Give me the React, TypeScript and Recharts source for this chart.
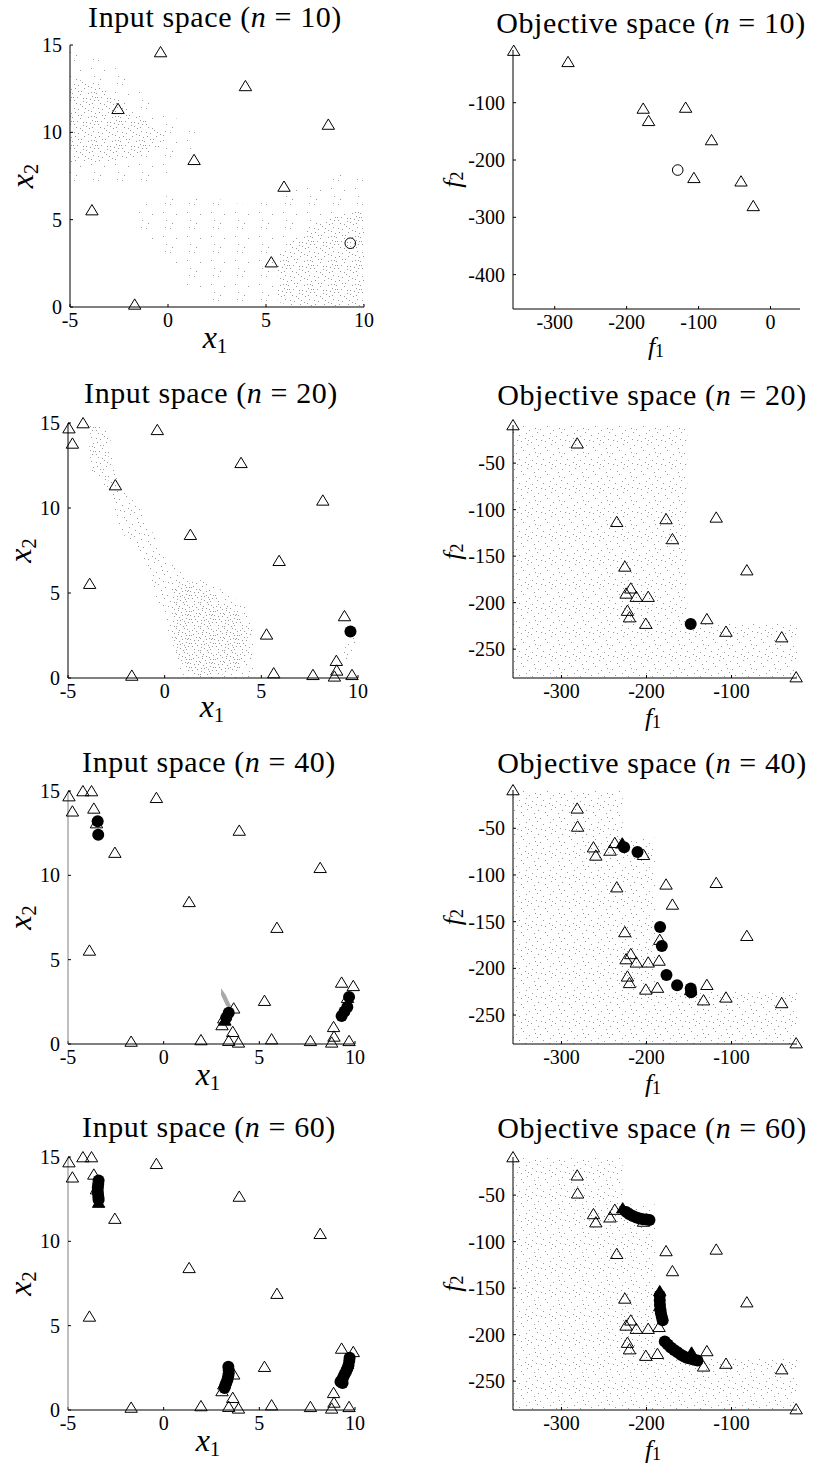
import React from 'react';
import { ComposedChart, Scatter, Area, XAxis, YAxis } from 'recharts';

type Pt = [number, number];
type Row = [number, number, number]; // x, low, high of a shaded sample cloud

// ---------- input space (x1, x2) ----------
const inTri10: Pt[] = [
  [-0.38, 14.6], [3.95, 12.66], [-2.55, 11.35], [8.18, 10.45], [1.33, 8.43],
  [5.92, 6.9], [-3.88, 5.55], [5.27, 2.57], [-1.7, 0.15],
];
const inRing10: Pt[] = [[9.3, 3.65]];
const inTri20: Pt[] = [
  [-4.95, 14.7], [-4.22, 15.0], [-4.77, 13.8], [9.3, 3.65], [5.64, 0.29],
  [7.67, 0.19], [8.88, 1.02], [8.9, 0.45], [8.78, 0.1], [9.69, 0.19],
];
const inDot20: Pt[] = [[9.61, 2.74]];
const inTri40: Pt[] = [
  [-3.77, 15.0], [-3.65, 13.97], [-3.51, 13.1], [9.91, 3.45], [1.95, 0.24], [3.61, 0.73],
  [3.4, 0.2], [3.91, 0.1], [3.66, 2.12], [3.14, 1.53], [3.05, 1.13], [9.61, 2.74],
];
const inDot40: Pt[] = [
  [-3.45, 13.2], [-3.42, 12.4], [3.4, 1.85], [3.27, 1.55],
  [9.69, 2.78], [9.6, 2.2], [9.45, 1.92], [9.3, 1.66],
];
const inTriFill40: Pt[] = [[3.2, 1.4]];
const inDot60: Pt[] = [
  [-3.4, 13.6], [-3.42, 13.4], [-3.44, 13.2], [-3.45, 13.0], [-3.43, 12.8], [-3.41, 12.6], [-3.4, 12.45],
  [3.38, 2.56], [3.4, 2.35], [3.4, 2.17], [3.37, 1.98], [3.33, 1.78], [3.27, 1.6], [3.22, 1.45], [3.18, 1.3],
  [9.72, 3.1], [9.7, 2.9], [9.66, 2.66], [9.6, 2.45], [9.53, 2.27], [9.45, 2.1], [9.38, 1.92], [9.3, 1.76], [9.24, 1.68], [9.35, 1.6],
];
const inTriFill60: Pt[] = [[-3.4, 12.3]];

// gray sample clouds, input space
const inFringeUL10: Row[] = [[-5, 7.0, 14.8], [-4, 6.9, 14.6], [-3, 7.0, 14.0], [-2, 7.0, 13.0], [-1, 7.2, 12.0], [0, 7.6, 11.0], [1, 8.8, 10.5], [1.6, 9.4, 9.9]];
const inCoreUL10: Row[] = [[-5, 8.2, 13.2], [-4, 8.3, 12.8], [-3, 8.3, 12.3], [-2, 8.5, 11.3], [-1, 8.8, 10.6], [-0.2, 9.3, 10.0]];
const inFringeLR10: Row[] = [[-1.7, 4.6, 5.6], [-0.5, 3.5, 6.4], [1, 1.0, 6.2], [2.5, 0.3, 6.2], [4, 0, 5.8], [5.5, 0, 6.2], [7, 0, 7.0], [8.5, 0, 7.6], [10, 0, 7.5]];
const inCoreLR10: Row[] = [[5.6, 0.3, 3.0], [6.5, 0, 4.0], [7.5, 0, 4.6], [8.5, 0, 5.2], [10, 0, 5.6]];
const inArm20: Row[] = [
  [-3.9, 12.6, 15.0], [-3.4, 11.8, 15.0], [-2.9, 10.9, 14.6], [-2.4, 8.8, 11.4], [-1.8, 8.0, 10.6],
  [-1.2, 7.0, 10.0], [-0.6, 5.0, 8.5], [0, 3.4, 7.2], [0.6, 0.5, 6.4], [1.2, 0, 6.0],
  [2.5, 0, 5.5], [3.5, 0, 4.8], [4.3, 0, 4.3], [4.6, 0.3, 2.5],
];
const inArmCore20: Row[] = [[0.4, 2.0, 5.2], [1.2, 0.2, 5.6], [2.2, 0.1, 5.2], [3.0, 0.2, 4.4], [3.8, 0.6, 3.8], [4.3, 1.5, 3.0]];
const inArmTop20: Row[] = [[-3.85, 12.2, 14.9], [-3.4, 11.8, 15.0], [-2.9, 11.6, 14.0]];
const inSpur20: Row[] = [[9.2, 0.6, 1.3], [9.5, 1.0, 2.4], [9.85, 2.1, 3.2]];
const inStreak40: Row[] = [[3.0, 2.9, 3.3], [3.25, 2.3, 2.9], [3.5, 2.0, 2.3]];

// ---------- objective space (f1, f2) ----------
const objTri10: Pt[] = [
  [-357, -9], [-281.5, -28.6], [-177, -110], [-169.5, -131.5], [-118, -108.3],
  [-82, -165], [-106.5, -231], [-41, -237], [-24, -280],
];
const objRing10: Pt[] = [[-129, -217.5]];
const objTri20: Pt[] = [
  [-129, -217.5], [-235, -113], [-225.5, -161], [-218.5, -184.5], [-224, -190],
  [-212, -193.5], [-198, -193.5], [-222.4, -208.5], [-220, -215.5], [-200.8, -222.5],
];
const objDot20: Pt[] = [[-148, -223]];
const objTri40: Pt[] = [
  [-281, -48], [-262.4, -70.2], [-259.6, -79], [-242.8, -73.7], [-237.3, -65.5], [-203.5, -78.3],
  [-184.4, -169.2], [-185.2, -191.5], [-187.1, -220.5], [-132.9, -234], [-148, -223],
];
const objDot40: Pt[] = [
  [-226.3, -70.2], [-210.6, -75.5], [-184, -155.7], [-182, -176], [-176.5, -207.2],
  [-164, -218], [-148, -221.5], [-147.5, -225.5],
];
const objTriFill40: Pt[] = [[-228.5, -66]];
const objDot60: Pt[] = [
  [-224, -68], [-220, -70.5], [-216, -72.5], [-212, -74], [-208, -75], [-204, -75.8], [-200, -76.3], [-196.5, -76.7],
  [-184.4, -158], [-184.4, -163], [-184.2, -168], [-183.6, -173], [-183, -177], [-182, -181], [-181, -184.5],
  [-178.5, -207.3], [-175, -210.5], [-171.4, -213.7], [-167.5, -216.5], [-163.5, -219], [-159.5, -221.5],
  [-155.8, -223.6], [-151.8, -225], [-147.9, -226], [-144, -227], [-140, -227.9],
];
const objTriFill60: Pt[] = [[-228, -64], [-184.4, -153], [-147, -219]];

const objCloud20: Row[] = [[-357, -281, -9], [-152, -281, -9], [-152, -281, -223], [-23, -281, -223]];
const objCloudLate: Row[] = [
  [-357, -281, -9], [-228, -281, -9], [-228, -281, -60], [-190, -281, -60], [-190, -281, -225], [-23, -281, -225],
];

// ---------- axes ----------
const inDomX: [number, number] = [-5, 10];
const inDomY: [number, number] = [0, 15];
const inTicksX = [-5, 0, 5, 10];
const inTicksY = [0, 5, 10, 15];
const objDomX10: [number, number] = [-358, 41];
const objDomY10: [number, number] = [-460, -8];
const objTicksX10 = [-300, -200, -100, 0];
const objTicksY10 = [-400, -300, -200, -100];
const objDomX: [number, number] = [-357, -23];
const objDomY: [number, number] = [-281, -9];
const objTicksX = [-300, -200, -100];
const objTicksY = [-250, -200, -150, -100, -50];

// ---------- texture for the sample clouds ----------
const FONT = '"Liberation Serif", "Times New Roman", serif';
const INK = '#000';
const SPECK = '#9a9a9a';
const speckA = [[2, 3], [10, 1], [16, 5], [21, 2], [6, 10], [12, 7], [19, 11], [23, 8], [1, 16], [8, 13], [14, 17], [20, 15], [4, 22], [11, 20], [17, 23], [22, 19]];
const speckB = [[6, 4], [13, 3], [19, 6], [3, 7], [9, 10], [16, 12], [22, 11], [0, 12], [5, 16], [11, 17], [18, 18], [23, 16], [2, 19], [8, 23], [14, 21], [20, 22]];
const speckC = [[4, 1], [12, 5], [18, 1], [23, 4], [1, 8], [8, 6], [15, 9], [20, 8], [4, 13], [10, 11], [13, 14], [21, 12], [7, 18], [16, 16], [19, 20], [10, 23]];
const textures: Record<string, number[][]> = {
  thin: speckA.filter((_, i) => i % 3 === 0),
  obj: [...speckA, ...speckB.slice(0, 2)],
  mid: [...speckA, ...speckB],
  dense: [...speckA, ...speckB, ...speckC],
};

const xy = (pts: Pt[]) => pts.map(([x, y]) => ({ x, y }));
const band = (rows: Row[]) => rows.map(([x, lo, hi]) => ({ x, r: [lo, hi] }));

const OpenTri = (p: any) => (
  <path d={`M${p.cx},${p.cy - 5.5}L${p.cx + 6.2},${p.cy + 4.8}L${p.cx - 6.2},${p.cy + 4.8}Z`} fill="none" stroke={INK} strokeWidth={1} />
);
const FullTri = (p: any) => (
  <path d={`M${p.cx},${p.cy - 5.5}L${p.cx + 6.2},${p.cy + 4.8}L${p.cx - 6.2},${p.cy + 4.8}Z`} fill={INK} stroke={INK} strokeWidth={1} />
);
const Ring = (p: any) => <circle cx={p.cx} cy={p.cy} r={5.3} fill="none" stroke={INK} strokeWidth={1} />;
const Dot = (p: any) => <circle cx={p.cx} cy={p.cy} r={6} fill={INK} />;

type Spec = {
  kind: 'input' | 'objective';
  n: number;
  rect: [number, number, number, number];
  titleAt: [number, number];
  xLabelAt: [number, number];
  xDomain: [number, number];
  yDomain: [number, number];
  xTicks: number[];
  yTicks: number[];
  clouds?: { rows: Row[]; fill: string }[];
  tri?: Pt[];
  triFill?: Pt[];
  ring?: Pt[];
  dot?: Pt[];
  yAxisColor?: string;
};

const panels: Spec[] = [
  {
    kind: 'input', n: 10, rect: [70, 45, 364, 307], titleAt: [215, 27], xLabelAt: [215, 348],
    xDomain: inDomX, yDomain: inDomY, xTicks: inTicksX, yTicks: inTicksY,
    clouds: [
      { rows: inFringeUL10, fill: 'url(#sp-thin)' },
      { rows: inCoreUL10, fill: 'url(#sp-mid)' },
      { rows: inFringeLR10, fill: 'url(#sp-thin)' },
      { rows: inCoreLR10, fill: 'url(#sp-mid)' },
    ],
    tri: inTri10, ring: inRing10,
  },
  {
    kind: 'objective', n: 10, rect: [513, 50, 800, 309], titleAt: [651, 32.5], xLabelAt: [656, 355],
    xDomain: objDomX10, yDomain: objDomY10, xTicks: objTicksX10, yTicks: objTicksY10,
    tri: objTri10, ring: objRing10,
  },
  {
    kind: 'input', n: 20, rect: [68, 423, 358, 678], titleAt: [211, 402.7], xLabelAt: [212, 717],
    xDomain: inDomX, yDomain: inDomY, xTicks: inTicksX, yTicks: inTicksY,
    clouds: [
      { rows: inArm20, fill: 'url(#sp-obj)' },
      { rows: inArmCore20, fill: 'url(#sp-dense)' },
      { rows: inArmTop20, fill: 'url(#sp-mid)' },
      { rows: inSpur20, fill: 'url(#sp-obj)' },
    ],
    tri: [...inTri10, ...inTri20], dot: inDot20,
  },
  {
    kind: 'objective', n: 20, rect: [513, 425, 797, 678], titleAt: [652, 405], xLabelAt: [653, 726],
    xDomain: objDomX, yDomain: objDomY, xTicks: objTicksX, yTicks: objTicksY,
    clouds: [{ rows: objCloud20, fill: 'url(#sp-obj)' }],
    tri: [...objTri10, ...objTri20], dot: objDot20,
  },
  {
    kind: 'input', n: 40, rect: [68, 791, 355, 1044], titleAt: [209, 772.3], xLabelAt: [208, 1085],
    xDomain: inDomX, yDomain: inDomY, xTicks: inTicksX, yTicks: inTicksY,
    clouds: [{ rows: inStreak40, fill: '#a8a8a8' }],
    tri: [...inTri10, ...inTri20, ...inTri40], dot: inDot40, triFill: inTriFill40, yAxisColor: '#808080',
  },
  {
    kind: 'objective', n: 40, rect: [513, 790, 797, 1044], titleAt: [652, 773.3], xLabelAt: [653, 1092],
    xDomain: objDomX, yDomain: objDomY, xTicks: objTicksX, yTicks: objTicksY,
    clouds: [{ rows: objCloudLate, fill: 'url(#sp-obj)' }],
    tri: [...objTri10, ...objTri20, ...objTri40], dot: objDot40, triFill: objTriFill40,
  },
  {
    kind: 'input', n: 60, rect: [68, 1157, 355, 1410], titleAt: [209, 1137.3], xLabelAt: [208, 1451],
    xDomain: inDomX, yDomain: inDomY, xTicks: inTicksX, yTicks: inTicksY,
    tri: [...inTri10, ...inTri20, ...inTri40], dot: inDot60, triFill: inTriFill60, yAxisColor: '#808080',
  },
  {
    kind: 'objective', n: 60, rect: [513, 1157, 797, 1410], titleAt: [652, 1138], xLabelAt: [653, 1458],
    xDomain: objDomX, yDomain: objDomY, xTicks: objTicksX, yTicks: objTicksY,
    clouds: [{ rows: objCloudLate, fill: 'url(#sp-obj)' }],
    tri: [...objTri10, ...objTri20, ...objTri40], dot: objDot60, triFill: objTriFill60,
  },
];

const PAD_L = 70, PAD_T = 12, PAD_R = 16, PAD_B = 60;

function Panel({ s }: { s: Spec }) {
  const [x0, y0, x1, y1] = s.rect;
  const tick = { fill: INK, fontSize: 20, fontFamily: FONT };
  return (
    <div style={{ position: 'absolute', left: x0 - PAD_L, top: y0 - PAD_T, fontFamily: FONT }}>
      <ComposedChart
        width={x1 - x0 + PAD_L + PAD_R}
        height={y1 - y0 + PAD_T + PAD_B}
        margin={{ top: PAD_T, right: PAD_R, bottom: 0, left: 0 }}
      >
        <XAxis type="number" dataKey="x" domain={s.xDomain} ticks={s.xTicks} interval={0} height={PAD_B}
          tick={tick} tickSize={-3} tickMargin={9} tickLine={{ stroke: INK }} axisLine={{ stroke: INK }} />
        <YAxis type="number" dataKey="y" domain={s.yDomain} ticks={s.yTicks} interval={0} width={PAD_L}
          tick={tick} tickSize={-3} tickMargin={11} tickLine={{ stroke: INK }} axisLine={{ stroke: s.yAxisColor || INK }} />
        {(s.clouds || []).map((c, i) => (
          <Area key={`c${i}`} data={band(c.rows)} dataKey="r" type="linear" stroke="none" fill={c.fill}
            fillOpacity={1} dot={false} activeDot={false} isAnimationActive={false} />
        ))}
        {s.tri && <Scatter data={xy(s.tri)} shape={OpenTri} isAnimationActive={false} />}
        {s.ring && <Scatter data={xy(s.ring)} shape={Ring} isAnimationActive={false} />}
        {s.dot && <Scatter data={xy(s.dot)} shape={Dot} isAnimationActive={false} />}
        {s.triFill && <Scatter data={xy(s.triFill)} shape={FullTri} isAnimationActive={false} />}
      </ComposedChart>
    </div>
  );
}

function Labels() {
  return (
    <svg width={814} height={1465} style={{ position: 'absolute', left: 0, top: 0, pointerEvents: 'none', fontFamily: FONT }}
      fill={INK}>
      {panels.map((s, i) => {
        const [x0, y0, , y1] = s.rect;
        const isIn = s.kind === 'input';
        const sym = isIn ? 'x' : 'f';
        const yBase = isIn ? x0 - 37 : x0 - 52;
        const yMid = (y0 + y1) / 2;
        const big = isIn ? 32 : 26;
        const sub = isIn ? 21 : 18;
        const drop = isIn ? 5 : 2;
        return (
          <g key={i}>
            <text x={s.titleAt[0]} y={s.titleAt[1]} textAnchor="middle" fontSize={30} letterSpacing={0.6}>
              {isIn ? 'Input' : 'Objective'} space (<tspan fontStyle="italic">n</tspan> = {s.n})
            </text>
            <text x={s.xLabelAt[0]} y={s.xLabelAt[1]} textAnchor="middle" fontSize={big}>
              <tspan fontStyle="italic">{sym}</tspan>
              <tspan fontSize={sub} dy={drop}>1</tspan>
            </text>
            <text x={yBase} y={yMid} textAnchor="middle" fontSize={big} transform={`rotate(-90 ${yBase} ${yMid})`}>
              <tspan fontStyle="italic">{sym}</tspan>
              <tspan fontSize={sub} dy={drop}>2</tspan>
            </text>
          </g>
        );
      })}
    </svg>
  );
}

export default function App() {
  return (
    <div style={{ position: 'absolute', left: 0, top: 0, width: 814, height: 1465, background: '#fff', overflow: 'hidden', fontFamily: FONT }}>
      <svg width={0} height={0} style={{ position: 'absolute' }}>
        <defs>
          {Object.entries(textures).map(([name, dots]) => (
            <pattern key={name} id={`sp-${name}`} width={24} height={24} patternUnits="userSpaceOnUse">
              {dots.map(([x, y], i) => (
                <rect key={i} x={x} y={y} width={1} height={1} fill={SPECK} />
              ))}
            </pattern>
          ))}
        </defs>
      </svg>
      {panels.map((s, i) => (
        <Panel key={i} s={s} />
      ))}
      <Labels />
    </div>
  );
}
